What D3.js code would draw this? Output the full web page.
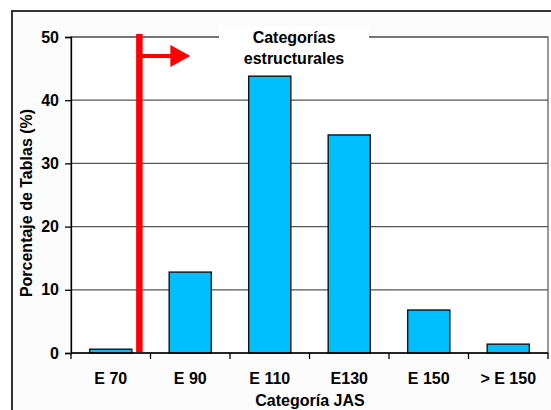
<!DOCTYPE html>
<html>
<head>
<meta charset="utf-8">
<script src="https://cdn.jsdelivr.net/npm/d3@7"></script>
<style>
  body { margin: 0; background: #fff; }
  text { font-family: "Liberation Sans", Arial, sans-serif; font-weight: bold; fill: #000; }
</style>
</head>
<body>
<div id="chart"></div>
<script>
// data
const categories = ["E 70", "E 90", "E 110", "E130", "E 150", "> E 150"];
const percentages = [0.6, 12.8, 43.8, 34.5, 6.8, 1.4];
const yTicks = [0, 10, 20, 30, 40, 50];

const width = 551, height = 410;
const margin = { top: 37, right: 3, bottom: 57, left: 71 };

const svg = d3.select("#chart").append("svg")
    .attr("width", width)
    .attr("height", height);

// outer frame
svg.append("rect")
    .attr("x", 12).attr("y", 11)
    .attr("width", width + 20).attr("height", height + 20)
    .attr("fill", "#fcfcfc")
    .attr("stroke", "#333")
    .attr("stroke-width", 2);

const x = d3.scaleBand()
    .domain(categories)
    .range([margin.left, width - margin.right])
    .paddingInner(0.47)
    .paddingOuter(0.235);

const y = d3.scaleLinear()
    .domain([0, 50])
    .range([height - margin.bottom, margin.top]);

// plot area
svg.append("rect")
    .attr("x", margin.left).attr("y", margin.top)
    .attr("width", width - margin.right - margin.left)
    .attr("height", y(0) - y(50))
    .attr("fill", "#fff")
    .attr("stroke", "#777")
    .attr("stroke-width", 1.5);

// gridlines
svg.append("g")
    .selectAll("line")
    .data(yTicks.slice(1))
    .enter()
    .append("line")
    .attr("x1", margin.left).attr("x2", width - margin.right)
    .attr("y1", d => y(d)).attr("y2", d => y(d))
    .attr("stroke", "#555")
    .attr("stroke-width", 1.2);

// bars
svg.append("g")
    .selectAll("rect")
    .data(percentages)
    .enter()
    .append("rect")
    .attr("x", (d, i) => x(categories[i]))
    .attr("y", d => y(d))
    .attr("width", x.bandwidth())
    .attr("height", d => y(0) - y(d))
    .attr("fill", "#00bfff")
    .attr("stroke", "#111")
    .attr("stroke-width", 1.4);

// y axis
const yAxis = svg.append("g")
    .attr("transform", `translate(${margin.left},0)`)
    .call(d3.axisLeft(y).tickValues(yTicks).tickSize(6).tickPadding(6));
yAxis.selectAll("text").style("font-size", "16px");
yAxis.selectAll("line, path").attr("stroke", "#000").attr("stroke-width", 1.3);

// x axis: ticks at category boundaries
const xAxis = svg.append("g")
    .attr("transform", `translate(0,${y(0)})`);
xAxis.append("line")
    .attr("x1", margin.left).attr("x2", width - margin.right)
    .attr("stroke", "#000").attr("stroke-width", 1.3);
const step = x.step();
xAxis.selectAll(".tk")
    .data(d3.range(categories.length + 1))
    .enter()
    .append("line")
    .attr("x1", i => margin.left + i * step)
    .attr("x2", i => margin.left + i * step)
    .attr("y1", 0).attr("y2", 6)
    .attr("stroke", "#000").attr("stroke-width", 1.3);
xAxis.selectAll(".lbl")
    .data(categories)
    .enter()
    .append("text")
    .attr("x", d => x(d) + x.bandwidth() / 2)
    .attr("y", 31)
    .attr("text-anchor", "middle")
    .style("font-size", "16px")
    .text(d => d);

// axis titles
svg.append("text")
    .attr("x", 310).attr("y", 406)
    .attr("text-anchor", "middle")
    .style("font-size", "16px")
    .text("Categoría JAS");

svg.append("text")
    .attr("transform", `translate(32,${(y(0) + y(50)) / 2 + 8}) rotate(-90)`)
    .attr("text-anchor", "middle")
    .style("font-size", "16px")
    .text("Porcentaje de Tablas (%)");

// annotation: red divider and arrow
const redX = margin.left + step * 0.86;
svg.append("line")
    .attr("x1", redX).attr("x2", redX)
    .attr("y1", 34).attr("y2", y(0) - 1)
    .attr("stroke", "#ff0000").attr("stroke-width", 6.5);
svg.append("line")
    .attr("x1", redX).attr("x2", redX + 33)
    .attr("y1", 56).attr("y2", 56)
    .attr("stroke", "#ff0000").attr("stroke-width", 4);
svg.append("path")
    .attr("d", `M${redX + 31},45 L${redX + 51},56 L${redX + 31},67 Z`)
    .attr("fill", "#ff0000");

// label box
svg.append("rect")
    .attr("x", 219).attr("y", 26)
    .attr("width", 150).attr("height", 44)
    .attr("fill", "#fff");
svg.append("text")
    .attr("x", 294).attr("y", 43)
    .attr("text-anchor", "middle")
    .style("font-size", "16px")
    .text("Categorías");
svg.append("text")
    .attr("x", 294).attr("y", 64)
    .attr("text-anchor", "middle")
    .style("font-size", "16px")
    .text("estructurales");
</script>
</body>
</html>
